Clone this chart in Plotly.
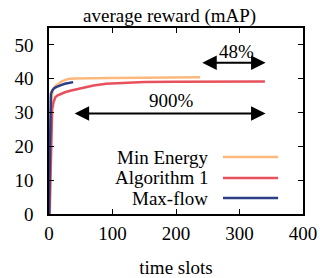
import plotly.graph_objects as go

# Data
maxflow_x = [0, 1, 2, 3, 5, 8, 12, 16, 20, 25, 30, 35, 38]
maxflow_y = [0, 12, 30, 35.5, 36.5, 37.2, 37.6, 38.0, 38.2, 38.5, 38.7, 38.9, 39.0]

alg1_x = [1, 2, 3, 4, 5, 7, 10, 13, 18, 25, 35, 50, 70, 90, 120, 150, 200, 250, 300, 340]
alg1_y = [0, 8, 20, 28, 31, 33, 34.5, 35, 35.5, 36, 36.5, 37.2, 38, 38.5, 38.8, 39, 39.1, 39.2, 39.2, 39.2]

minen_x = [0, 2, 4, 6, 10, 15, 20, 25, 30, 40, 60, 100, 150, 200, 238]
minen_y = [0, 25, 34, 36.5, 37.8, 38.6, 39.2, 39.6, 39.9, 40.1, 40.2, 40.2, 40.3, 40.3, 40.4]

series_names = ["Min Energy", "Algorithm 1", "Max-flow"]
series_colors = ["#FDB97D", "#E8505B", "#2C3E86"]

x_ticks = [0, 100, 200, 300, 400]
y_ticks = [0, 10, 20, 30, 40, 50]

FONT = "Liberation Serif"
FS = 19

fig = go.Figure()
for xs, ys, name, col in [(minen_x, minen_y, series_names[0], series_colors[0]),
                          (alg1_x, alg1_y, series_names[1], series_colors[1]),
                          (maxflow_x, maxflow_y, series_names[2], series_colors[2])]:
    fig.add_trace(go.Scatter(x=xs, y=ys, mode="lines", name=name,
                             line=dict(color=col, width=2.5), showlegend=False))

# Manual legend (text right, line sample on right)
leg_y = [0.306, 0.194, 0.086]
for name, col, yy in zip(series_names, series_colors, leg_y):
    fig.add_annotation(x=0.632, y=yy, xref="paper", yref="paper", text=name,
                       showarrow=False, xanchor="right", yanchor="middle",
                       font=dict(family=FONT, size=FS, color="black"))
    fig.add_shape(type="line", xref="paper", yref="paper", x0=0.685, x1=0.902,
                  y0=yy, y1=yy, line=dict(color=col, width=2.5))

# Double arrows
arrows = [(239, 341, 44.7, "48%", 296, 48.0), (38, 341, 29.7, "900%", 193, 33.6)]
for x0, x1, ya, txt, tx, ty in arrows:
    fig.add_annotation(x=x1, y=ya, ax=x0, ay=ya, xref="x", yref="y", axref="x", ayref="y",
                       text="", showarrow=True, arrowhead=2, startarrowhead=2,
                       arrowside="end+start", arrowsize=1.45, startarrowsize=1.45,
                       arrowwidth=2, arrowcolor="black")
    fig.add_annotation(x=tx, y=ty, xref="x", yref="y", text=txt, showarrow=False,
                       font=dict(family=FONT, size=FS, color="black"))

axis_common = dict(showgrid=False, zeroline=False, showline=True, linecolor="black",
                   linewidth=1.5, mirror="ticks", ticks="inside", ticklen=5,
                   tickcolor="black", tickwidth=1, automargin=False,
                   tickfont=dict(family=FONT, size=FS, color="black"))

fig.update_xaxes(range=[0, 400], tickvals=x_ticks, **axis_common, ticklabelstandoff=1,
                 title=dict(text="time slots", font=dict(family=FONT, size=FS, color="black"),
                            standoff=18))
fig.update_yaxes(range=[0, 55], tickvals=y_ticks, ticklabelstandoff=10, **axis_common)

fig.update_layout(
    width=320, height=278,
    margin=dict(l=49, r=17, t=28, b=64, autoexpand=False),
    paper_bgcolor="white", plot_bgcolor="white",
    title=dict(text="average reward (mAP)", x=0.53, xanchor="center", y=0.945, yanchor="middle",
               font=dict(family=FONT, size=FS, color="black")),
    font=dict(family=FONT, size=FS, color="black"),
)

fig.write_html("out.html", config={"displayModeBar": False},
               post_script="document.body.style.margin='0px';")
